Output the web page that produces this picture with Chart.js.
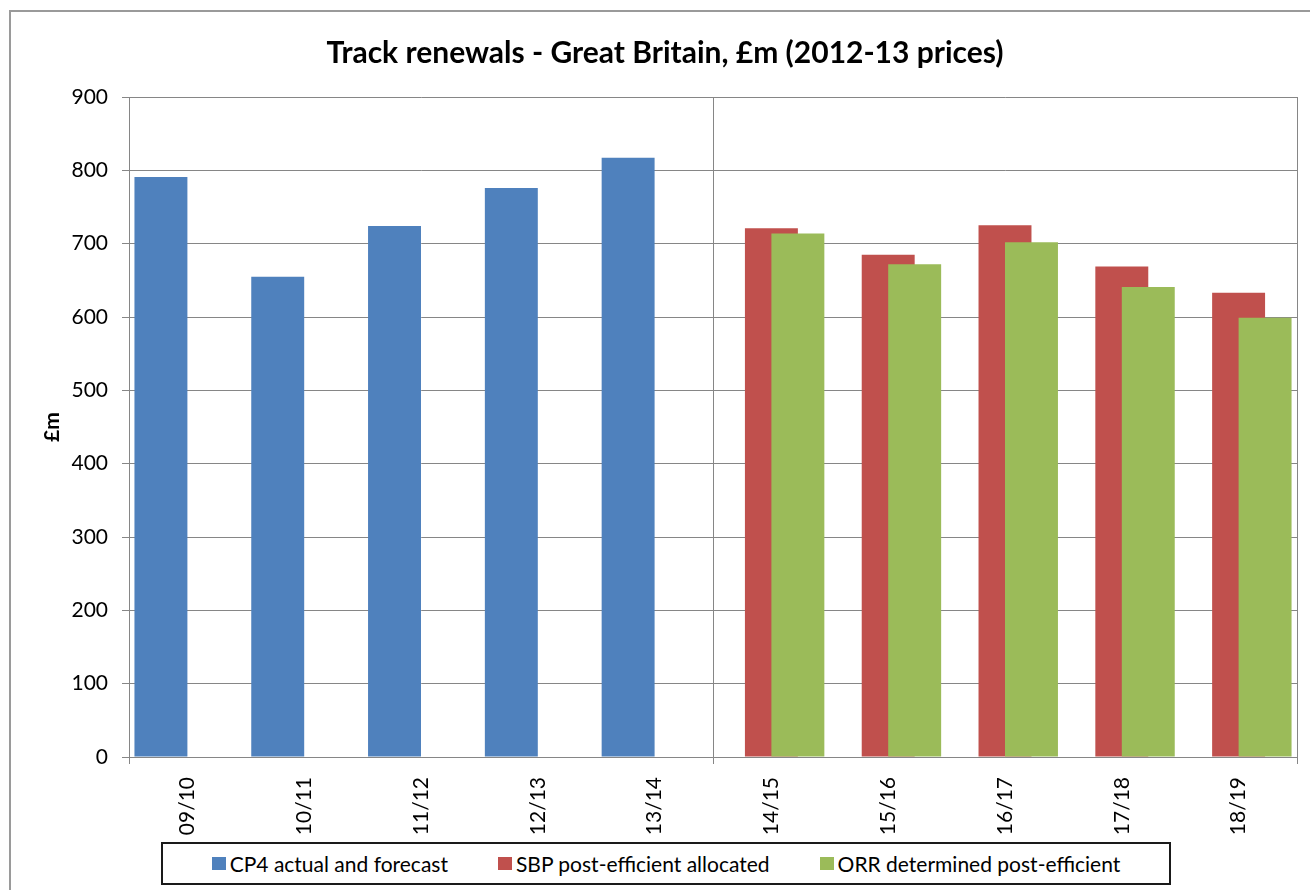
<!DOCTYPE html>
<html>
<head>
<meta charset="utf-8">
<title>Track renewals - Great Britain</title>
<script src="https://cdn.jsdelivr.net/npm/chart.js@4.4.1/dist/chart.umd.min.js"></script>
<style>
  html, body { margin: 0; padding: 0; background: #fff; overflow: hidden; }
  #frame {
    position: absolute; left: 9px; top: 10px; width: 1400px; height: 1000px;
    border-left: 2px solid #9a9a9a; border-top: 2px solid #9a9a9a; box-sizing: border-box;
  }
  #wrap { position: absolute; left: 9px; top: 10px; width: 1312px; height: 900px; }
  #legend {
    position: absolute; left: 161px; top: 842px; width: 1010px; height: 43px;
    box-sizing: border-box; border: 2px solid #1a1a1a; background: #fff;
    display: flex; align-items: center; justify-content: center;
    font-family: Lato, "Open Sans", sans-serif; font-size: 21px; color: #000;
  }
  #legend .item { display: flex; align-items: center; margin: 0 25px; white-space: nowrap; }
  #legend .swatch { width: 14px; height: 13px; margin-right: 4px; flex: none; }
</style>
</head>
<body>
<div id="frame"></div>
<div id="wrap"><canvas id="chart" width="1312" height="900"></canvas></div>
<div id="legend"></div>
<script>
// Financial years (control periods CP4: 09/10-13/14, CP5: 14/15-18/19)
const years = ['09/10', '10/11', '11/12', '12/13', '13/14', '14/15', '15/16', '16/17', '17/18', '18/19'];

// £m, 2012-13 prices
const cp4ActualForecast = [791, 655, 724, 776, 817, null, null, null, null, null];
const sbpPostEfficient   = [null, null, null, null, null, 721, 685, 725, 669, 633];
const orrPostEfficient   = [null, null, null, null, null, 714, 672, 702, 641, 599];

const seriesNames = ['CP4 actual and forecast', 'SBP post-efficient allocated', 'ORR determined post-efficient'];
const seriesColors = ['#4F81BD', '#C0504D', '#9BBB59'];

const yMin = 0;
const yMax = 900;
const yStep = 100;
const yearsPerPeriod = 5;

const FONT = 'Lato, "Open Sans", sans-serif';
const GRID = '#868686';

// The ORR bars sit in front of the overlapping SBP bars.
const orrInFront = {
  id: 'orrInFront',
  beforeDatasetDraw(chart, args) {
    if (args.index === 2) return false;
  },
  afterDatasetsDraw(chart) {
    const meta = chart.getDatasetMeta(2);
    if (!meta.hidden) meta.controller.draw();
  }
};

const chart = new Chart(document.getElementById('chart'), {
  type: 'bar',
  data: {
    labels: years,
    datasets: [
      { label: seriesNames[0], data: cp4ActualForecast, backgroundColor: seriesColors[0] },
      { label: seriesNames[1], data: sbpPostEfficient, backgroundColor: seriesColors[1] },
      { label: seriesNames[2], data: orrPostEfficient, backgroundColor: seriesColors[2] }
    ]
  },
  options: {
    responsive: false,
    animation: false,
    devicePixelRatio: 1,
    datasets: {
      bar: { categoryPercentage: 0.68, barPercentage: 2.0, borderWidth: 0 }
    },
    layout: { padding: { left: 24, right: 24, top: 0, bottom: 68 } },
    plugins: {
      title: {
        display: true,
        text: 'Track renewals - Great Britain, £m (2012-13 prices)',
        color: '#000',
        font: { family: FONT, size: 30, weight: 'bold' },
        padding: { top: 25.5, bottom: 25.5 }
      },
      legend: { display: false },
      tooltip: { enabled: false }
    },
    scales: {
      x: {
        offset: true,
        afterFit(scale) { scale.height = 85; },
        grid: {
          offset: true,
          drawOnChartArea: true,
          drawTicks: true,
          tickLength: 7,
          lineWidth: 1,
          color: ctx => (ctx.type !== 'tick' || ctx.index % yearsPerPeriod === 0) ? GRID : 'rgba(0,0,0,0)'
        },
        border: { display: true, color: GRID, width: 1 },
        ticks: {
          autoSkip: false,
          minRotation: 90,
          maxRotation: 90,
          padding: 13,
          color: '#000',
          font: { family: FONT, size: 21 }
        }
      },
      y: {
        min: yMin,
        max: yMax,
        afterFit(scale) { scale.width = 96; },
        grid: { color: GRID, lineWidth: 1, tickLength: 7, drawTicks: true },
        border: { display: true, color: GRID, width: 1 },
        ticks: {
          stepSize: yStep,
          padding: 14,
          color: '#000',
          font: { family: FONT, size: 21 }
        },
        title: {
          display: true,
          text: '£m',
          color: '#000',
          font: { family: FONT, size: 21, weight: 'bold' },
          padding: { top: 7, bottom: 0 }
        }
      }
    }
  },
  plugins: [orrInFront]
});

// Boxed legend built from the chart's datasets
const legendEl = document.getElementById('legend');
chart.data.datasets.forEach(ds => {
  const item = document.createElement('div');
  item.className = 'item';
  const sw = document.createElement('span');
  sw.className = 'swatch';
  sw.style.background = ds.backgroundColor;
  const txt = document.createElement('span');
  txt.textContent = ds.label;
  item.appendChild(sw);
  item.appendChild(txt);
  legendEl.appendChild(item);
});
</script>
</body>
</html>
